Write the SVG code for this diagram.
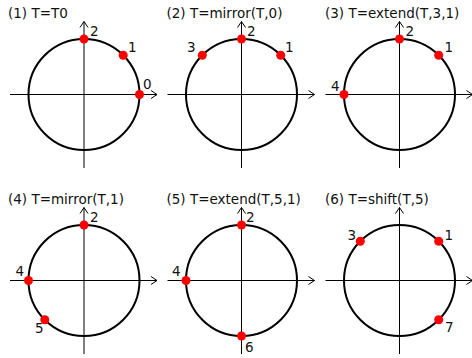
<svg xmlns="http://www.w3.org/2000/svg" width="472" height="358" viewBox="0 0 472 358">
<style>
text{font-family:"DejaVu Sans",sans-serif;font-size:13.5px;fill:#111}
.ax{stroke:#000;stroke-width:1;fill:none;marker-end:url(#arr)}
.c{stroke:#000;stroke-width:2;fill:none}
.p{fill:#ff0000}
</style>
<defs>
<marker id="arr" markerUnits="userSpaceOnUse" markerWidth="10" markerHeight="10" viewBox="-7 -5 8 10" refX="0" refY="0" orient="auto">
<path d="M-6,-4 L0,0 L-6,4" stroke="#000" stroke-width="1" fill="none"/>
</marker>
</defs>
<rect width="472" height="358" fill="#fff"/>
<g id="panel1">
<text x="8" y="18">(1) T=T0</text>
<g id="axes1"><line class="ax" x1="10" y1="94.5" x2="157" y2="94.5"/><line class="ax" x1="84" y1="168" x2="84" y2="21.5"/></g>
<circle class="c" cx="84" cy="94.5" r="55.5"/>
<circle class="p" cx="139.5" cy="94.5" r="4.5"/><circle class="p" cx="123.2" cy="55.3" r="4.5"/><circle class="p" cx="84" cy="39" r="4.5"/>
<text x="143" y="88.5">0</text><text x="128" y="52">1</text><text x="90" y="36">2</text>
</g>
<g id="panel2">
<text x="166.5" y="18">(2) T=mirror(T,0)</text>
<g id="axes2"><line class="ax" x1="167.5" y1="94.5" x2="314.5" y2="94.5"/><line class="ax" x1="241.5" y1="168" x2="241.5" y2="21.5"/></g>
<circle class="c" cx="241.5" cy="94.5" r="55.5"/>
<circle class="p" cx="280.7" cy="55.3" r="4.5"/><circle class="p" cx="241.5" cy="39" r="4.5"/><circle class="p" cx="202.3" cy="55.3" r="4.5"/>
<text x="285" y="52">1</text><text x="247" y="35.5">2</text><text x="187" y="52">3</text>
</g>
<g id="panel3">
<text x="325" y="18">(3) T=extend(T,3,1)</text>
<g id="axes3"><line class="ax" x1="325.5" y1="94.5" x2="472.5" y2="94.5"/><line class="ax" x1="399.5" y1="168" x2="399.5" y2="21.5"/></g>
<circle class="c" cx="399.5" cy="94.5" r="55.5"/>
<circle class="p" cx="438.7" cy="55.3" r="4.5"/><circle class="p" cx="399.5" cy="39" r="4.5"/><circle class="p" cx="344" cy="94.5" r="4.5"/>
<text x="444.5" y="52">1</text><text x="405.5" y="35.5">2</text><text x="331" y="90.5">4</text>
</g>
<g id="panel4">
<text x="8" y="204">(4) T=mirror(T,1)</text>
<g id="axes4"><line class="ax" x1="10" y1="280.5" x2="157" y2="280.5"/><line class="ax" x1="84" y1="354" x2="84" y2="207.5"/></g>
<circle class="c" cx="84" cy="280.5" r="55.5"/>
<circle class="p" cx="84" cy="225" r="4.5"/><circle class="p" cx="28.5" cy="280.5" r="4.5"/><circle class="p" cx="44.8" cy="319.7" r="4.5"/>
<text x="90" y="221.5">2</text><text x="15.5" y="276">4</text><text x="35" y="333">5</text>
</g>
<g id="panel5">
<text x="166.5" y="204">(5) T=extend(T,5,1)</text>
<g id="axes5"><line class="ax" x1="167.5" y1="280.5" x2="314.5" y2="280.5"/><line class="ax" x1="241.5" y1="354" x2="241.5" y2="207.5"/></g>
<circle class="c" cx="241.5" cy="280.5" r="55.5"/>
<circle class="p" cx="241.5" cy="225" r="4.5"/><circle class="p" cx="186" cy="280.5" r="4.5"/><circle class="p" cx="241.5" cy="336" r="4.5"/>
<text x="246" y="221.5">2</text><text x="172" y="276">4</text><text x="245" y="351.5">6</text>
</g>
<g id="panel6">
<text x="325" y="204">(6) T=shift(T,5)</text>
<g id="axes6"><line class="ax" x1="325.5" y1="280.5" x2="472.5" y2="280.5"/><line class="ax" x1="399.5" y1="354" x2="399.5" y2="207.5"/></g>
<circle class="c" cx="399.5" cy="280.5" r="55.5"/>
<circle class="p" cx="438.7" cy="241.3" r="4.5"/><circle class="p" cx="360.3" cy="241.3" r="4.5"/><circle class="p" cx="438.7" cy="319.7" r="4.5"/>
<text x="444.5" y="239.5">1</text><text x="347.5" y="240">3</text><text x="445" y="331.5">7</text>
</g>
</svg>
